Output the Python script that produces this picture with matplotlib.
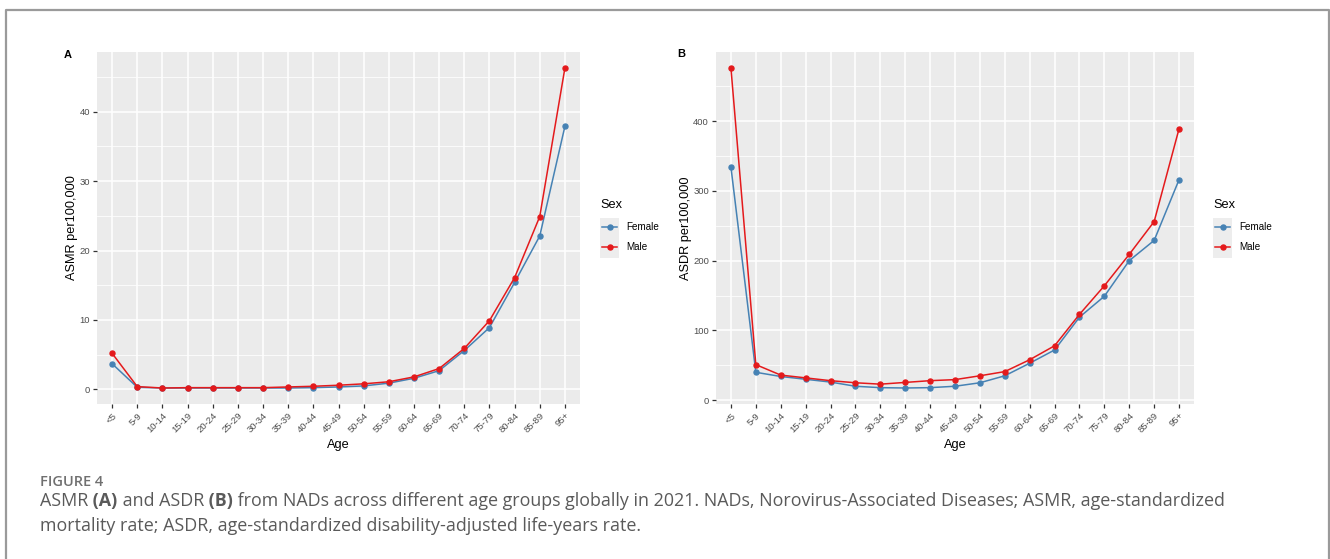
"""
Figure 4: ASMR (A) and ASDR (B) from NADs by age group and sex, ggplot-style.
"""
import numpy as np
import matplotlib
matplotlib.use("Agg")
import matplotlib.pyplot as plt
from matplotlib.lines import Line2D
from matplotlib.patches import Rectangle
from matplotlib.ticker import MultipleLocator

# ── Data ─────────────────────────────────────────────────────────────────────
AGE_GROUPS = ["<5", "5-9", "10-14", "15-19", "20-24", "25-29", "30-34", "35-39",
              "40-44", "45-49", "50-54", "55-59", "60-64", "65-69", "70-74",
              "75-79", "80-84", "85-89", "95+"]

ASMR_FEMALE = [3.7, 0.3, 0.2, 0.2, 0.2, 0.2, 0.2, 0.2, 0.25, 0.35, 0.5, 0.9,
               1.6, 2.7, 5.6, 8.9, 15.4, 22.1, 37.9]
ASMR_MALE = [5.2, 0.4, 0.2, 0.25, 0.25, 0.25, 0.25, 0.35, 0.45, 0.6, 0.8, 1.1,
             1.8, 3.0, 5.9, 9.9, 16.1, 24.9, 46.3]

ASDR_FEMALE = [334, 40, 34, 30, 26, 20, 18, 17.5, 18, 20, 25, 35, 53, 72, 119,
               149, 200, 229, 316]
ASDR_MALE = [476, 51, 36, 32, 28, 25, 23, 25.5, 28, 29.5, 35, 41, 58, 78, 123,
             164, 209, 256, 389]

SEXES = ["Female", "Male"]
COLORS = {"Female": "#4682B4", "Male": "#E41A1C"}

W, H = 1330, 559
FONT = ["Liberation Sans", "DejaVu Sans"]
plt.rcParams["font.family"] = FONT


def fx(px):
    return px / W


def fy(py):
    return 1 - py / H


def ggplot_axes(ax, female, male, ylabel, major, minor):
    x = np.arange(len(AGE_GROUPS))
    ax.set_facecolor("#EBEBEB")
    for s in ax.spines.values():
        s.set_visible(False)
    ax.yaxis.set_major_locator(MultipleLocator(major))
    ax.yaxis.set_minor_locator(MultipleLocator(minor))
    ax.grid(which="major", color="white", lw=1.1)
    ax.grid(which="minor", axis="y", color="white", lw=0.55)
    ax.set_axisbelow(True)
    ax.tick_params(which="minor", length=0)
    ax.tick_params(which="major", length=3, width=0.9, color="#333333",
                   labelcolor="#4D4D4D", labelsize=6.8, pad=2)

    for sex, vals in zip(SEXES, [female, male]):
        ax.plot(x, vals, color=COLORS[sex], lw=1.1, marker="o", ms=3.6,
                zorder=3)

    ax.set_xticks(x)
    ax.set_xticklabels(AGE_GROUPS, rotation=45, ha="right",
                       rotation_mode="anchor")
    ax.set_xlim(-0.6, len(AGE_GROUPS) - 0.4)
    lo = min(min(female), min(male))
    hi = max(max(female), max(male))
    pad = 0.05 * (hi - lo)
    ax.set_ylim(lo - pad, hi + pad)
    ax.set_xlabel("Age", fontsize=9.2, color="black", labelpad=3)
    ax.set_ylabel(ylabel, fontsize=9.2, color="black", labelpad=1)


def legend(fig, x0, y0):
    fig.text(fx(x0), fy(y0), "Sex", fontsize=9.2, va="center", ha="left")
    fig.add_artist(Rectangle((fx(x0), fy(y0 + 53)), fx(19), 40 / H,
                             transform=fig.transFigure, color="#EDEDED",
                             lw=0))
    for i, sex in enumerate(SEXES):
        yy = fy(y0 + 22 + i * 20)
        fig.add_artist(Line2D([fx(x0 + 2), fx(x0 + 9.5), fx(x0 + 17)],
                              [yy, yy, yy], transform=fig.transFigure,
                              color=COLORS[sex], lw=1.1, marker="o", ms=3.6,
                              markevery=[1]))
        fig.text(fx(x0 + 26), yy, sex, fontsize=7.1, va="center", ha="left")


def draw_runs(fig, x, y, runs, **kw):
    r = fig.canvas.get_renderer()
    for txt, weight in runs:
        t = fig.text(x, y, txt, fontweight=weight, **kw)
        x += t.get_window_extent(renderer=r).width / fig.bbox.width


def main():
    fig = plt.figure(figsize=(W / 100, H / 100), dpi=100)

    # frame round the figure
    fig.add_artist(Line2D([fx(6), fx(6), fx(1329), fx(1329)],
                          [0, fy(10), fy(10), 0], transform=fig.transFigure,
                          color="#9A9A9A", lw=1.6))

    ax_a = fig.add_axes([fx(97), fy(404), fx(580 - 97), (404 - 52) / H])
    ax_b = fig.add_axes([fx(716), fy(404), fx(1194 - 716), (404 - 52) / H])
    ggplot_axes(ax_a, ASMR_FEMALE, ASMR_MALE, "ASMR per100,000", 10, 5)
    ggplot_axes(ax_b, ASDR_FEMALE, ASDR_MALE, "ASDR per100,000", 100, 50)

    fig.text(fx(68), fy(55), "A", fontsize=8, fontweight="bold",
             ha="center", va="center")
    fig.text(fx(681), fy(54), "B", fontsize=8, fontweight="bold",
             ha="center", va="center")

    legend(fig, 600, 205)
    legend(fig, 1213, 205)

    # ── Caption ──────────────────────────────────────────────────────────────
    cap = dict(family=["Open Sans", "DejaVu Sans"], color="#5A5A5A",
               va="baseline", ha="left")
    fig.text(fx(40), fy(486), "FIGURE 4", fontsize=10.5,
             fontweight="semibold", **{**cap, "color": "#707070"})
    draw_runs(fig, fx(40), fy(506), [
        ("ASMR", "normal"), (" (A)", "bold"), (" and ASDR", "normal"),
        (" (B)", "bold"),
        (" from NADs across different age groups globally in 2021. NADs, "
         "Norovirus-Associated Diseases; ASMR, age-standardized", "normal"),
    ], fontsize=12.9, **cap)
    fig.text(fx(40), fy(531), "mortality rate; ASDR, age-standardized "
             "disability-adjusted life-years rate.", fontsize=12.9, **cap)

    fig.savefig("out.png", dpi=100)
    plt.close(fig)


if __name__ == "__main__":
    main()
